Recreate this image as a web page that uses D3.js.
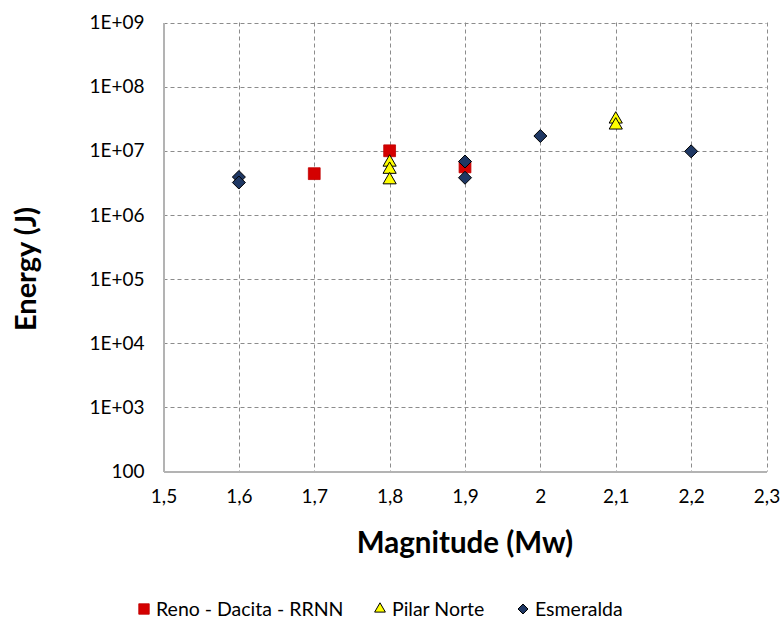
<!DOCTYPE html>
<html>
<head>
<meta charset="utf-8">
<script src="https://cdn.jsdelivr.net/npm/d3@7"></script>
<style>
  body { margin: 0; background: #fff; }
  svg { font-family: Lato, "Open Sans", sans-serif; }
</style>
</head>
<body>
<div class="chart"></div>
<script>
// data
const renoMw = [1.7, 1.8, 1.9];
const renoE = [4.4e6, 1.0e7, 5.6e6];

const pilarMw = [1.8, 1.8, 1.8, 2.1, 2.1];
const pilarE = [6.6e6, 5.1e6, 3.5e6, 3.1e7, 2.5e7];

const esmMw = [1.6, 1.6, 1.9, 1.9, 2.0, 2.2];
const esmE = [3.9e6, 3.2e6, 6.8e6, 3.8e6, 1.7e7, 9.8e6];

const xTicks = [1.5, 1.6, 1.7, 1.8, 1.9, 2.0, 2.1, 2.2, 2.3];
const yTicks = [1e2, 1e3, 1e4, 1e5, 1e6, 1e7, 1e8, 1e9];
const yLabels = ["100", "1E+03", "1E+04", "1E+05", "1E+06", "1E+07", "1E+08", "1E+09"];

const width = 782, height = 619;
const margin = {left: 163.5, right: 15.5, top: 22.5, bottom: 147.5};

const svg = d3.select(".chart").append("svg")
    .attr("width", width)
    .attr("height", height);

const x = d3.scaleLinear()
    .domain([1.5, 2.3])
    .range([margin.left, width - margin.right]);

const y = d3.scaleLog()
    .domain([100, 1e9])
    .range([height - margin.bottom, margin.top]);

// gridlines
const grid = svg.append("g")
    .attr("stroke", "#8c8c8c")
    .attr("stroke-width", 1)
    .attr("stroke-dasharray", "4,3");

grid.selectAll("line.h")
  .data(yTicks.slice(1))
  .join("line")
    .attr("x1", x(1.5)).attr("x2", x(2.3))
    .attr("y1", d => Math.round(y(d)) + 0.5)
    .attr("y2", d => Math.round(y(d)) + 0.5);

grid.selectAll("line.v")
  .data(xTicks.slice(1))
  .join("line")
    .attr("y1", y(1e9)).attr("y2", y(100))
    .attr("x1", d => Math.round(x(d)) + 0.5)
    .attr("x2", d => Math.round(x(d)) + 0.5);

// axes
const xAxis = svg.append("g")
    .attr("transform", `translate(0,${y(100)})`)
    .call(d3.axisBottom(x).tickValues(xTicks).tickSize(0).tickPadding(18)
      .tickFormat(d => d3.format("")(+d.toFixed(1)).replace(".", ",")));

const yAxis = svg.append("g")
    .attr("transform", `translate(${x(1.5)},0)`)
    .call(d3.axisLeft(y).tickValues(yTicks).tickSize(0).tickPadding(19)
      .tickFormat((d, i) => yLabels[i]));

[xAxis, yAxis].forEach(a => {
  a.select(".domain").attr("stroke", "#b3b3b3").attr("stroke-width", 2);
  a.selectAll("text").attr("font-size", 19).attr("fill", "#000")
    .attr("font-family", "Lato, 'Open Sans', sans-serif");
});

// axis titles
svg.append("text")
    .attr("x", 465)
    .attr("y", 553)
    .attr("text-anchor", "middle")
    .attr("font-size", 29.5)
    .attr("font-weight", "bold")
    .text("Magnitude (Mw)");

svg.append("text")
    .attr("transform", "translate(36,269) rotate(-90)")
    .attr("text-anchor", "middle")
    .attr("font-size", 29)
    .attr("font-weight", "bold")
    .text("Energy (J)");

// markers
const sqr = d3.symbol().type(d3.symbolSquare).size(140);
const tri = d3.symbol().type(d3.symbolTriangle).size(75);

function diamondPath(s) {
  return `M0,${-s}L${s},0L0,${s}L${-s},0Z`;
}

const series = [
  {name: "Reno - Dacita - RRNN", mw: renoMw, e: renoE, path: sqr(), fill: "#d40000", stroke: "#c00000", sw: 0.8},
  {name: "Pilar Norte", mw: pilarMw, e: pilarE, path: tri(), fill: "#ffff00", stroke: "#000", sw: 1},
  {name: "Esmeralda", mw: esmMw, e: esmE, path: diamondPath(6.5), fill: "#1f3864", stroke: "#000", sw: 1}
];

series.forEach(s => {
  svg.append("g")
    .selectAll("path")
    .data(s.mw.map((m, i) => [m, s.e[i]]))
    .join("path")
      .attr("d", s.path)
      .attr("transform", d => `translate(${x(d[0])},${y(d[1])})`)
      .attr("fill", s.fill)
      .attr("stroke", s.stroke)
      .attr("stroke-width", s.sw);
});

// legend
const legendX = [144, 380, 523];
const legend = svg.append("g");
series.forEach((s, i) => {
  legend.append("path")
    .attr("d", i === 0 ? d3.symbol().type(d3.symbolSquare).size(110)() :
               i === 1 ? d3.symbol().type(d3.symbolTriangle).size(50)() : diamondPath(5))
    .attr("transform", `translate(${legendX[i]},609)`)
    .attr("fill", s.fill)
    .attr("stroke", s.stroke)
    .attr("stroke-width", s.sw);
  legend.append("text")
    .attr("x", legendX[i] + 12)
    .attr("y", 616)
    .attr("font-size", 19.5)
    .text(s.name);
});
</script>
</body>
</html>
